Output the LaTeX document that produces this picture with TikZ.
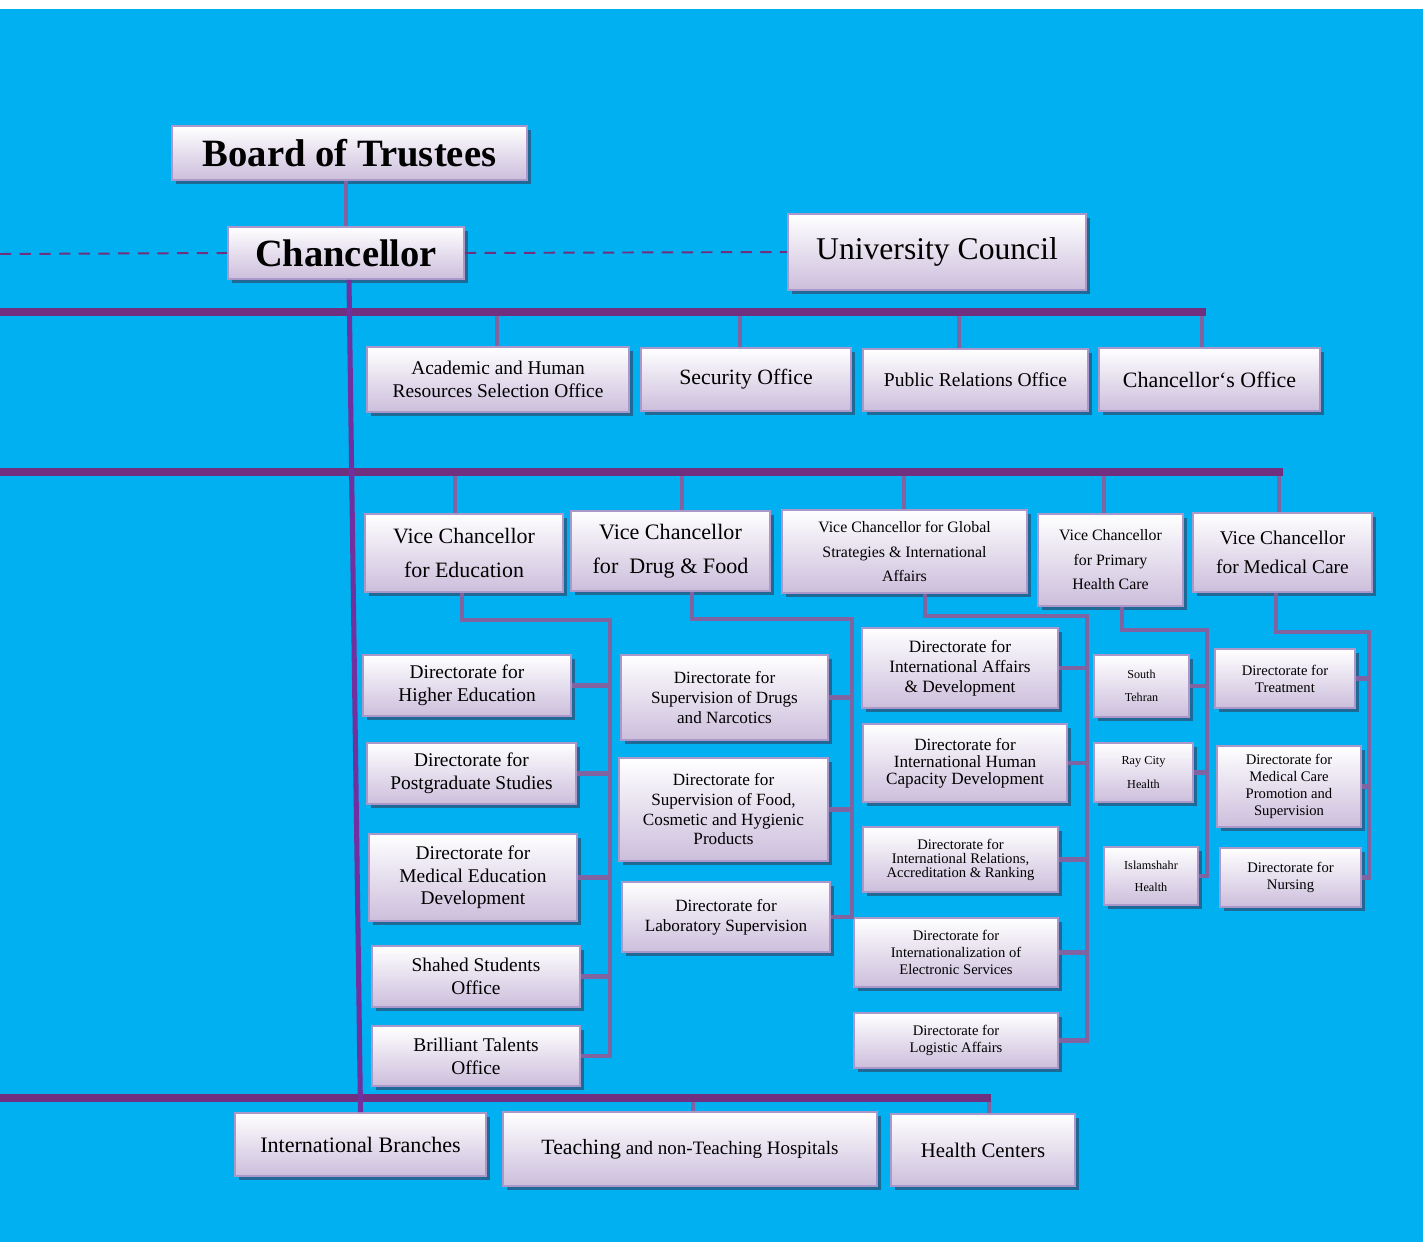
\documentclass[tikz,border=0pt]{standalone}
\usepackage{fontspec}
\setmainfont{Liberation Serif}
\usetikzlibrary{calc, shadows}
\definecolor{skyblue}{RGB}{0,176,240}
\definecolor{busviolet}{RGB}{112,48,127}
\definecolor{linkviolet}{RGB}{128,100,162}
\definecolor{axisviolet}{RGB}{112,48,160}
\definecolor{boxedge}{RGB}{170,152,202}
\definecolor{boxlow}{RGB}{204,190,220}
\definecolor{boxshade}{RGB}{30,105,150}

\tikzset{
  box/.style={draw=boxedge, line width=1.3pt, top color=white, bottom color=boxlow,
    align=center, inner sep=1pt,
    drop shadow={shadow xshift=0.09cm, shadow yshift=-0.1cm, fill=boxshade, opacity=1}},
  sz/.style 2 args={minimum width=#1cm, minimum height=#2cm},
  fs/.style 2 args={font=\fontsize{#1}{#2}\selectfont},
  bus/.style={busviolet, line width=6pt},
  link/.style={linkviolet, line width=3.4pt},
  axis/.style={axisviolet, line width=3.6pt},
  advise/.style={busviolet, line width=1.4pt, dash pattern=on 8pt off 6pt}
}

\begin{document}
\begin{tikzpicture}[x=0.025cm, y=-0.025cm]
    % Canvas
    \useasboundingbox (0,0) rectangle (1423,1242);
    \fill[white] (0,0) rectangle (1423,1242);
    \fill[skyblue] (0,9) rectangle (1423,1242);

    % Head of the university
    \node[box, sz={8.875}{1.35}, fs={27.5}{30}] (board) at (349.5,153) {\textbf{Board of Trustees}};
    \node[box, sz={5.9}{1.3}, fs={27.4}{30}] (chanc) at (346,253) {\textbf{Chancellor}};
    \node[box, sz={7.45}{1.9}, fs={22.5}{26}] (council) at (937,252) {University Council};

    % Offices of the chancellor
    \node[box, sz={6.55}{1.625}, fs={13.8}{16.4}] (acad) at (498,379.5) {Academic and Human\\Resources Selection Office};
    \node[box, sz={5.25}{1.575}, fs={15.5}{18}] (secur) at (746,379.5) {Security Office};
    \node[box, sz={5.625}{1.55}, fs={13.9}{16}] (pubrel) at (975.5,380) {Public Relations Office};
    \node[box, sz={5.525}{1.575}, fs={15.6}{18}] (choff) at (1209.5,379.5) {Chancellor‘s Office};

    % Vice chancellors
    \node[box, sz={4.95}{1.95}, fs={15.6}{24}] (vcedu) at (464,553) {Vice Chancellor\\for Education};
    \node[box, sz={4.975}{2.0}, fs={15.7}{24}] (vcdrug) at (670.5,551) {Vice Chancellor\\for\ \ Drug \& Food};
    \node[box, sz={6.125}{2.075}, fs={11.3}{17.4}] (vcglob) at (904.5,551.5) {Vice Chancellor for Global\\Strategies \& International\\Affairs};
    \node[box, sz={3.625}{2.3}, fs={11.3}{17.4}] (vcprim) at (1110.5,560) {Vice Chancellor\\for Primary\\Health Care};
    \node[box, sz={4.475}{1.975}, fs={13.8}{20.6}] (vcmed) at (1282.5,552.5) {Vice Chancellor\\for Medical Care};

    % Education
    \node[box, sz={5.2}{1.525}, fs={13.8}{16.4}] (higher) at (467,685.5) {Directorate for\\Higher Education};
    \node[box, sz={5.225}{1.525}, fs={13.8}{16.4}] (postgr) at (471.5,773.5) {Directorate for\\Postgraduate Studies};
    \node[box, sz={5.2}{2.175}, fs={13.8}{16}] (mededu) at (473,877.5) {Directorate for\\Medical Education\\Development};
    \node[box, sz={5.2}{1.525}, fs={13.8}{16.4}] (shahed) at (476,976.5) {Shahed Students\\Office};
    \node[box, sz={5.2}{1.5}, fs={13.8}{16.4}] (talent) at (476,1056) {Brilliant Talents\\Office};

    % Drug and food
    \node[box, sz={5.175}{2.125}, fs={12.2}{14.2}] (narco) at (724.5,697.5) {Directorate for\\Supervision of Drugs\\and Narcotics};
    \node[box, sz={5.225}{2.575}, fs={12.2}{14}] (food) at (723.5,809.5) {Directorate for\\Supervision of Food,\\Cosmetic and Hygienic\\Products};
    \node[box, sz={5.2}{1.75}, fs={12.2}{14.2}] (labsup) at (726,917) {Directorate for\\Laboratory Supervision};

    % Global strategies
    \node[box, sz={4.9}{2.0}, fs={12.3}{14.2}] (intaff) at (960,668) {Directorate for\\International Affairs\\\& Development};
    \node[box, sz={5.1}{1.95}, fs={12.2}{12.1}] (humcap) at (965,763) {Directorate for\\International Human\\Capacity Development};
    \node[box, sz={4.875}{1.625}, fs={10.4}{10}] (intrel) at (960.5,859.5) {Directorate for\\International Relations,\\Accreditation \& Ranking};
    \node[box, sz={5.1}{1.725}, fs={10.4}{12.1}] (elserv) at (956,952.5) {Directorate for\\Internationalization of\\Electronic Services};
    \node[box, sz={5.1}{1.375}, fs={10.4}{12.1}] (logist) at (956,1040.5) {Directorate for\\Logistic Affairs};

    % Primary health care
    \node[box, sz={2.375}{1.55}, fs={8.6}{16.4}] (south) at (1141.5,686) {South\\Tehran};
    \node[box, sz={2.475}{1.475}, fs={8.7}{16.4}] (raycity) at (1143.5,772.5) {Ray City\\Health};
    \node[box, sz={2.35}{1.45}, fs={8.7}{15.6}] (islam) at (1151,876) {Islamshahr\\Health};

    % Medical care
    \node[box, sz={3.5}{1.475}, fs={10.4}{12.1}] (treat) at (1285,678.5) {Directorate for\\Treatment};
    \node[box, sz={3.6}{2.025}, fs={10.4}{11.9}] (promo) at (1289,786.5) {Directorate for\\Medical Care\\Promotion and\\Supervision};
    \node[box, sz={3.525}{1.475}, fs={10.4}{12.1}] (nurse) at (1290.5,877.5) {Directorate for\\Nursing};

    % Bottom row
    \node[box, sz={6.275}{1.575}, fs={15.7}{18}] (intbr) at (360.5,1144.5) {International Branches};
    \node[box, sz={9.35}{1.85}, fs={13.5}{16}] (hosp) at (690,1149) {{\fontsize{15.5}{18}\selectfont Teaching} and non-Teaching Hospitals};
    \node[box, sz={4.6}{1.8}, fs={14.8}{17}] (hcent) at (983,1150) {Health Centers};

    % Board - chancellor - council
    \draw[link] (chanc.north) -- (chanc.north |- board.south);
    \coordinate (dashw) at (0,254);
    \draw[advise] (dashw) -- (chanc.west);
    \draw[advise] (chanc.east) -- (council.west);

    % Buses
    \coordinate (busAw) at (0,312);  \coordinate (busAe) at (1206,312);
    \coordinate (busBw) at (0,472);  \coordinate (busBe) at (1283,472);
    \coordinate (busCw) at (0,1098); \coordinate (busCe) at (991,1098);

    \foreach \n/\xx in {acad/497, secur/740, pubrel/959, choff/1202}
        \draw[link] (\n.north -| \xx,0) -- (busAw -| \xx,0);
    \foreach \n/\xx in {vcedu/455, vcdrug/682, vcglob/904, vcprim/1104, vcmed/1279}
        \draw[link] (\n.north -| \xx,0) -- (busBw -| \xx,0);
    \foreach \n/\xx in {hosp/693, hcent/989}
        \draw[link] (\n.north -| \xx,0) -- (busCw -| \xx,0);

    \draw[bus] (busAw) -- (busAe);
    \draw[bus] (busBw) -- (busBe);
    \draw[bus] (busCw) -- (busCe);

    % Chancellor axis
    \draw[axis] ($(chanc.south)+(3,0)$) -- (intbr.north);

    % Branches under the vice chancellors
    \coordinate (eduknee) at (610,620);
    \draw[link] (vcedu.south -| 462,0) |- (eduknee) |- (talent.east);
    \foreach \n in {higher, postgr, mededu, shahed}
        \draw[link] (\n.east) -- (\n.east -| eduknee);

    \coordinate (drugknee) at (852,619);
    \draw[link] (vcdrug.south -| 692,0) |- (drugknee) |- (labsup.east);
    \foreach \n in {narco, food}
        \draw[link] (\n.east) -- (\n.east -| drugknee);

    \coordinate (globknee) at (1087,616);
    \draw[link] (vcglob.south -| 925,0) |- (globknee) |- (logist.east);
    \foreach \n in {intaff, humcap, intrel, elserv}
        \draw[link] (\n.east) -- (\n.east -| globknee);

    \coordinate (primknee) at (1207,630);
    \draw[link] (vcprim.south -| 1122,0) |- (primknee) |- (islam.east);
    \foreach \n in {south, raycity}
        \draw[link] (\n.east) -- (\n.east -| primknee);

    \coordinate (medknee) at (1369,632);
    \draw[link] (vcmed.south -| 1276,0) |- (medknee) |- (nurse.east);
    \foreach \n in {treat, promo}
        \draw[link] (\n.east) -- (\n.east -| medknee);

\end{tikzpicture}
\end{document}
